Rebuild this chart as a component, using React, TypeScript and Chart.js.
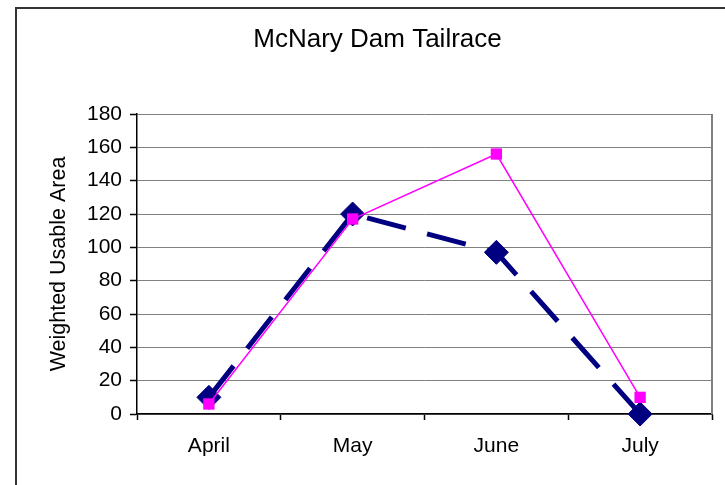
import React, { useEffect, useRef } from "react";
import { Chart, registerables } from "chart.js";

Chart.register(...registerables);

const chartTitle = "McNary Dam Tailrace";
const yAxisTitle = "Weighted Usable Area";
const months = ["April", "May", "June", "July"];
const navySeries = [10, 120, 97, 0];
const pinkSeries = [6, 117, 156, 10];
const yMin = 0;
const yMax = 180;
const yStep = 20;

const FONT = "'Liberation Sans', Arial, sans-serif";

const framePlugin = {
  id: "frame",
  beforeDraw(chart: any) {
    const { ctx } = chart;
    ctx.save();
    ctx.strokeStyle = "#333333";
    ctx.lineWidth = 2;
    ctx.strokeRect(16, 8, 900, 700);
    ctx.restore();
  },
  beforeDatasetsDraw(chart: any) {
    const { ctx, chartArea } = chart;
    ctx.save();
    ctx.strokeStyle = "#808080";
    ctx.lineWidth = 2;
    ctx.beginPath();
    ctx.moveTo(chartArea.right, chartArea.top);
    ctx.lineTo(chartArea.right, chartArea.bottom);
    ctx.stroke();
    ctx.restore();
  },
};

export default function App() {
  const ref = useRef<HTMLCanvasElement | null>(null);

  useEffect(() => {
    if (!ref.current) return;
    const chart = new Chart(ref.current, {
      type: "line",
      data: {
        labels: months,
        datasets: [
          {
            label: "Series 2",
            data: pinkSeries,
            borderColor: "#FF00FF",
            backgroundColor: "#FF00FF",
            borderWidth: 1.5,
            pointStyle: "rect",
            pointRadius: 8,
            pointBorderWidth: 0,
            pointBackgroundColor: "#FF00FF",
            pointBorderColor: "#FF00FF",
            tension: 0,
            clip: false as any,
          },
          {
            label: "Series 1",
            data: navySeries,
            borderColor: "#000080",
            backgroundColor: "#000080",
            borderWidth: 5,
            borderDash: [40, 22],
            borderCapStyle: "butt",
            pointStyle: "rectRot",
            pointRadius: 12,
            pointBorderWidth: 1,
            pointBackgroundColor: "#000080",
            pointBorderColor: "#000080",
            tension: 0,
            clip: false as any,
          },
        ],
      },
      options: {
        responsive: false,
        animation: false,
        layout: { padding: { left: 40, right: 10, top: 0, bottom: 0 } },
        plugins: {
          legend: { display: false },
          tooltip: { enabled: false },
          title: {
            display: true,
            text: chartTitle,
            color: "#000",
            font: { family: FONT, size: 26, weight: "normal" as any },
            padding: { top: 24.4, bottom: 58.4 },
          },
        },
        scales: {
          x: {
            type: "category",
            offset: true,
            grid: {
              offset: true,
              drawOnChartArea: false,
              drawTicks: true,
              tickLength: 6,
              tickColor: "#000",
              tickWidth: 1.5,
            },
            border: { display: true, color: "#000", width: 1.5 },
            ticks: {
              color: "#000",
              font: { family: FONT, size: 21 },
              padding: 14,
              maxRotation: 0,
            },
            afterFit: (s: any) => {
              s.height = 71;
            },
          },
          y: {
            min: yMin,
            max: yMax,
            grid: {
              color: "#808080",
              lineWidth: 1,
              tickColor: "#000",
              tickLength: 7,
              tickWidth: 1.5,
            },
            border: { display: true, color: "#000", width: 1.5 },
            ticks: {
              stepSize: yStep,
              color: "#000",
              font: { family: FONT, size: 21 },
              padding: 8,
            },
            title: {
              display: true,
              text: yAxisTitle,
              color: "#000",
              font: { family: FONT, size: 21.5 },
              padding: { top: 6, bottom: 0 },
            },
            afterFit: (s: any) => {
              s.width = 97;
            },
          },
        },
      },
      plugins: [framePlugin],
    });
    return () => chart.destroy();
  }, []);

  return (
    <div style={{ position: "absolute", left: 0, top: 0, width: 725, height: 485, background: "#fff" }}>
      <canvas ref={ref} width={725} height={485} style={{ display: "block", width: 725, height: 485 }} />
    </div>
  );
}
